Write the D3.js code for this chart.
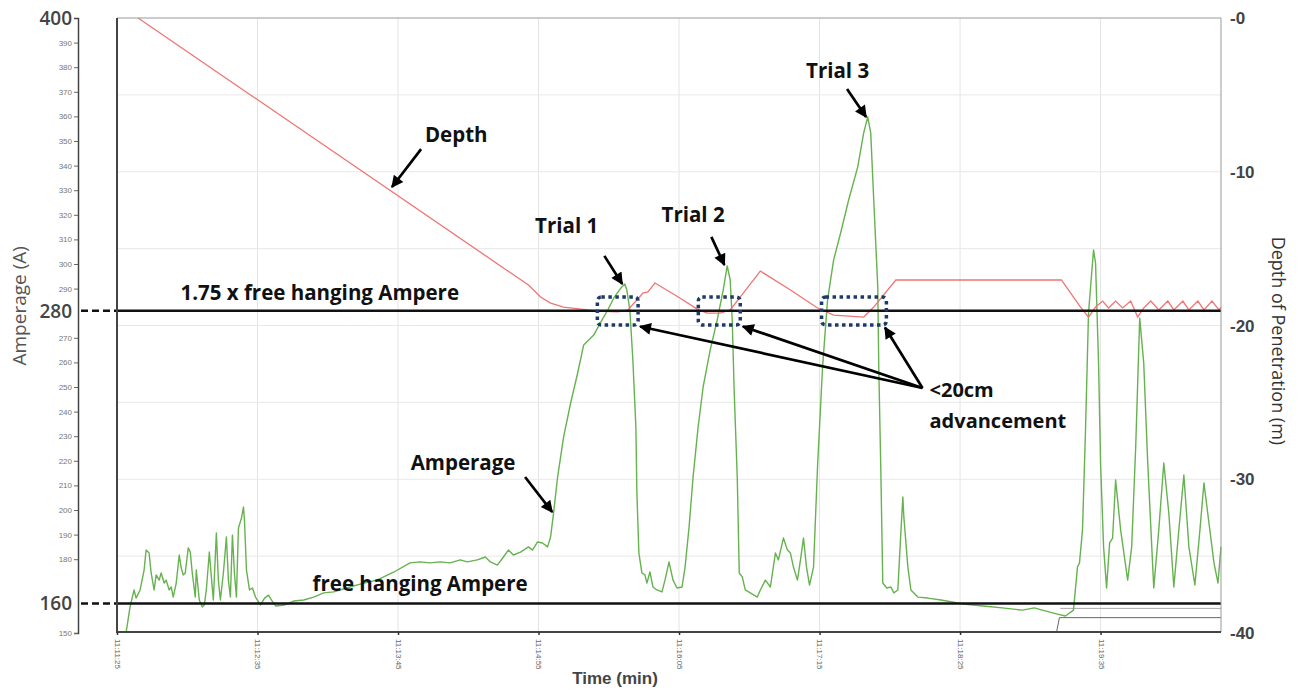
<!DOCTYPE html>
<html>
<head>
<meta charset="utf-8">
<script src="https://cdn.jsdelivr.net/npm/d3@7"></script>
<style>
  body { margin: 0; background: #fff; }
  svg { display: block; }
  .anno { font-family: "Open Sans", sans-serif; font-weight: 700; fill: #111; }
  .small-tick text { font-family: "Liberation Sans", Arial, sans-serif; font-size: 8px; fill: #777; }
</style>
</head>
<body>
<svg id="chart" width="1299" height="692"></svg>
<script>
// seconds after 11:11:25
const timeTicks = [0, 70, 140, 210, 280, 350, 420, 490];
const timeLabels = ["11:11:25", "11:12:35", "11:13:45", "11:14:55", "11:16:05", "11:17:15", "11:18:25", "11:19:35"];

const ampTicks = [150, 180, 190, 200, 210, 220, 230, 240, 250, 260, 270, 290, 300, 310, 320, 330, 340, 350, 360, 370, 380, 390];
const depthTicks = [0, -10, -20, -30, -40];
const depthGrid = [-5, -10, -15, -20, -25, -30, -35];

// [seconds, amperes]
const amperage = [
  [4.5,150],[6.5,160.6],[8.5,167.5],[9.5,164.2],[11.5,167.5],[13.5,175.6],[14.5,183.7],[16,182.5],[17,174.4],[18.5,167.5],
  [19.5,173.6],[21,171.5],[22,174.4],[23.5,170.3],[24.5,171.5],[26,167.5],[27,168.7],[28,164.6],[29.5,170.3],[31,181.7],
  [32,176.4],[33,173.6],[34,174.4],[35.5,184.6],[36.5,182.9],[37.5,174.4],[39,164.6],[39.5,175.6],[41,163.4],[42.5,160.6],
  [43.5,161.4],[44.5,167.5],[46,182.9],[47,172.8],[48,163.4],[49.5,190.7],[50.5,171.5],[51.5,163.4],[53,174.4],[54.5,189],
  [55.5,171.5],[56.5,164.6],[57.5,189.8],[58.5,174.4],[59.5,164.6],[60.5,192.7],[62,196.7],[63,201.2],[63.5,195.9],[64.5,175.6],
  [66,167.5],[67.5,168.3],[69,164.6],[71.5,161.4],[73.5,164.2],[75.5,165.4],[77,163.4],[79,161],[83.5,161.4],[88,163],
  [93,163.4],[98,164.6],[103,166.3],[108,166.7],[116,168.7],[123,170.3],[129.5,171.5],[138,174.8],[146,178.5],[151,178.9],
  [156,178.5],[161,178.9],[166,178.5],[171,179.7],[174.5,178.9],[179.5,179.7],[183.5,180.9],[186,178.9],[189.5,177.6],[192.5,180.9],
  [195,183.7],[197.5,181.7],[201,182.9],[205,185],[207,183.7],[209.5,187],[212,186.6],[214.5,185],[216,189],[217.5,198.8],
  [219.5,213.4],[222.5,229.7],[226,243.5],[229.5,255.7],[232.5,267.1],[235,269.1],[237.5,271.1],[241,276.4],[244.5,281.3],[247.5,286.2],
  [251,290.2],[253,291.9],[254,289.4],[255.5,281.3],[257,261],[258.5,233.7],[259,206.9],[260,182.5],[261.5,174.4],[263,173.6],
  [264,170.3],[265.5,174.8],[267,168.7],[269,167.5],[271.5,166.7],[273,171.5],[275,178.9],[277,171.5],[279,168.3],[281.5,168.7],
  [283,176.8],[285,193.1],[287,213.4],[289.5,233.7],[292,250],[295.5,265],[299,277.2],[302,289.4],[304,299.2],[305.5,293.5],
  [306.5,277.2],[307.5,247.6],[309,213.4],[310,174.4],[311.5,172.8],[313,167.5],[315.5,166.3],[319,164.6],[320.5,167.5],[323,171.5],
  [325.5,168.7],[328,182.5],[329.5,179.7],[332,188.6],[334,183.7],[335.5,182.5],[337,176.8],[339,171.5],[340.5,179.7],[342,188.6],
  [343.5,176.8],[345,169.5],[347,176.8],[349,217.5],[351.5,258.1],[354,285.4],[357,301.6],[360.5,312.6],[364.5,326],[369,339.4],
  [372,353.3],[374,359.8],[375.5,353.3],[377,326],[379,290.7],[379.5,258.1],[380.5,217.5],[381.5,170.3],[383.5,168.3],[385.5,168.7],
  [387,166.3],[389,167.5],[390.5,190.7],[391.5,205.3],[392,197.2],[394,176.8],[395.5,167.5],[399,164.6],[404,164.2],[410.5,163.4],
  [421.5,161.8],[431.5,161],[441,160.2],[451,159.3],[457,160.2],[461,159.3],[468.5,157.7],[472.5,156.9],[476.5,159.3],[478.5,176.8],
  [479.5,178.5],[481,191.9],[482.5,232.5],[484,280.1],[486.5,305.7],[487.5,300.4],[489,259.8],[490,219.1],[491.5,185],[493,168.3],
  [494.5,186.6],[496,188.6],[497.5,212.2],[500,191.9],[503.5,171.5],[505.5,185],[507.5,225.6],[509.5,278],[511.5,259.8],[513.5,219.1],
  [516.5,168.3],[519,191.9],[521.5,219.1],[524,198.8],[526.5,168.7],[529,191.9],[531.5,214.2],[534,185],[537,169.5],[539.5,191.9],
  [541.5,211],[544,194.7],[546.5,178.5],[548.5,170.3],[550,185]
];

// [seconds, metres]
const depth = [
  [10.5,0],[205,-17.37],[211,-18.15],[216,-18.54],[222.5,-18.8],[231,-18.93],[239.5,-19.06],[249.5,-19.12],[254.5,-18.99],[259,-18.34],
  [262,-17.89],[264.5,-17.82],[268,-17.24],[275.5,-17.82],[282,-18.34],[289,-18.93],[294,-19.19],[300.5,-19.19],[305.5,-18.99],[312,-17.89],
  [320.5,-16.46],[335.5,-17.69],[349,-18.86],[357,-19.32],[372,-19.45],[377,-18.8],[388,-17.04],[470.5,-17.04],[480,-18.8],[484,-19.45],
  [487.5,-18.8],[491,-18.41],[494,-18.86],[497.5,-18.41],[501,-18.86],[505,-18.41],[508.5,-19.45],[511.5,-18.86],[515,-18.41],[519,-18.99],
  [523.5,-18.41],[526.5,-18.99],[531,-18.41],[534,-18.99],[538.5,-18.41],[541.5,-18.99],[545.5,-18.41],[549,-18.99],[550,-18.8]
];

// bottom step trace, depth axis
const stepTrace = [[468,-40],[469.5,-39],[550,-39]];

const refLabels = ["280", "160"];
const refValues = [281, 162];

// annotations in [seconds, amperes]
const labels = [
  { text: "Depth", at: [169, 349.6] },
  { text: "Trial 1", at: [224, 312.6] },
  { text: "Trial 2", at: [287, 317.1] },
  { text: "Trial 3", at: [359, 375.6] },
  { text: "1.75 x free hanging Ampere", at: [101, 285.4] },
  { text: "free hanging Ampere", at: [151, 167.1] },
  { text: "Amperage", at: [172.4, 216.3] }
];
const arrows = [
  [[151.5, 346.7], [137, 331.3]],
  [[242.8, 303.3], [251.7, 291.9]],
  [[296.1, 311], [302.6, 299.6]],
  [[363.7, 371.1], [373.2, 359.8]],
  [[203.3, 213.4], [216.8, 199.2]],
  [[401.3, 249.6], [260.6, 274.6]],
  [[401.3, 249.6], [311.8, 274.6]],
  [[401.3, 249.6], [382.6, 274.2]]
];
const boxes = [[239.3, 259.6], [289.6, 310.5], [351, 383.3]];
const boxAmps = [275.2, 286.6];

const svg = d3.select("#chart");
const plotL = 117, plotR = 1221, plotT = 18, plotB = 632;

const x = d3.scaleLinear().domain([0, 550]).range([plotL, plotR]);
const yAmp = d3.scaleLinear().domain([150, 400]).range([633, plotT]);
const yDepth = d3.scaleLinear().domain([-40, 0]).range([633, plotT]);

// grid
svg.append("g").selectAll("line").data(timeTicks).join("line")
  .attr("x1", d => x(d)).attr("x2", d => x(d)).attr("y1", plotT).attr("y2", plotB)
  .attr("stroke", "#e4e4e4");
svg.append("g").selectAll("line").data(depthGrid).join("line")
  .attr("x1", plotL).attr("x2", plotR).attr("y1", d => yDepth(d)).attr("y2", d => yDepth(d))
  .attr("stroke", "#e8e8e8");

// faint baseline on right part
svg.append("line").attr("x1", x(470)).attr("x2", plotR)
  .attr("y1", yAmp(160)).attr("y2", yAmp(160)).attr("stroke", "#aaa").attr("stroke-width", 1);

const line = d3.line().x(d => x(d[0]));

svg.append("path").datum(stepTrace)
  .attr("d", line.y(d => yDepth(d[1])))
  .attr("fill", "none").attr("stroke", "#666").attr("stroke-width", 1);

svg.append("path").datum(amperage)
  .attr("d", line.y(d => yAmp(d[1])))
  .attr("fill", "none").attr("stroke", "#66b24f").attr("stroke-width", 1.4)
  .attr("stroke-linejoin", "round");

svg.append("path").datum(depth)
  .attr("d", line.y(d => yDepth(d[1])))
  .attr("fill", "none").attr("stroke", "#f07474").attr("stroke-width", 1.3);

// reference lines
refValues.forEach((v, i) => {
  svg.append("line").attr("x1", plotL).attr("x2", plotR)
    .attr("y1", yAmp(v)).attr("y2", yAmp(v))
    .attr("stroke", "#111").attr("stroke-width", 2.5);
  svg.append("line").attr("x1", 81).attr("x2", plotL)
    .attr("y1", yAmp(v)).attr("y2", yAmp(v))
    .attr("stroke", "#111").attr("stroke-width", 2.5).attr("stroke-dasharray", "7,4");
  svg.append("text").attr("x", 72).attr("y", yAmp(v) + 7)
    .attr("text-anchor", "end").attr("font-family", "Open Sans").attr("font-weight", 600)
    .attr("font-size", 19).attr("fill", "#444").text(refLabels[i]);
});

// frame
svg.append("line").attr("x1", plotL).attr("x2", plotR).attr("y1", plotT).attr("y2", plotT).attr("stroke", "#999");
svg.append("line").attr("x1", plotR).attr("x2", plotR).attr("y1", plotT).attr("y2", plotB).attr("stroke", "#999");
svg.append("line").attr("x1", plotL).attr("x2", plotL).attr("y1", plotT).attr("y2", plotB + 1).attr("stroke", "#444").attr("stroke-width", 2);
svg.append("line").attr("x1", plotL).attr("x2", plotR).attr("y1", plotB).attr("y2", plotB).attr("stroke", "#444").attr("stroke-width", 2);

// left amperage axis
const ampAxis = svg.append("g").attr("class", "small-tick").attr("transform", "translate(78,0)")
  .call(d3.axisLeft(yAmp).tickValues(ampTicks).tickSize(4).tickPadding(2));
ampAxis.select(".domain").attr("stroke", "#444").attr("stroke-width", 1.5);
ampAxis.selectAll(".tick line").attr("stroke", "#666");
svg.append("text").attr("x", 72).attr("y", yAmp(400) + 7)
  .attr("text-anchor", "end").attr("font-family", "Open Sans").attr("font-weight", 600)
  .attr("font-size", 19).attr("fill", "#444").text("400");

// time axis
const tAxis = svg.append("g").attr("transform", `translate(0,${plotB})`)
  .call(d3.axisBottom(x).tickValues(timeTicks).tickSize(3).tickFormat((d, i) => timeLabels[i]));
tAxis.select(".domain").remove();
tAxis.selectAll(".tick line").attr("stroke", "#333").attr("stroke-width", 1.5);
tAxis.selectAll(".tick text")
  .attr("transform", "rotate(90)").attr("x", 7).attr("y", 0).attr("dy", "0.32em")
  .attr("text-anchor", "start")
  .attr("font-family", "Liberation Sans").attr("font-size", 8).attr("fill", "#666");

// depth axis labels
svg.append("g").selectAll("text").data(depthTicks).join("text")
  .attr("x", 1230).attr("y", d => yDepth(d) + 6)
  .attr("font-family", "Liberation Sans").attr("font-weight", 700).attr("font-size", 17)
  .attr("fill", "#444").text(d => "-" + Math.abs(d));

// axis titles
svg.append("text").attr("transform", `translate(26,${yAmp(283)}) rotate(-90)`)
  .attr("text-anchor", "middle").attr("font-family", "Open Sans").attr("font-size", 19)
  .attr("fill", "#555").text("Amperage (A)");
svg.append("text").attr("transform", `translate(1272,${yDepth(-21)}) rotate(90)`)
  .attr("text-anchor", "middle").attr("font-family", "Open Sans").attr("font-size", 18)
  .attr("fill", "#333").text("Depth of Penetration (m)");
svg.append("text").attr("x", 615).attr("y", 684)
  .attr("text-anchor", "middle").attr("font-family", "Liberation Sans").attr("font-weight", 700)
  .attr("font-size", 17).attr("fill", "#444").text("Time (min)");

// dotted boxes
svg.append("g").selectAll("rect").data(boxes).join("rect")
  .attr("x", d => x(d[0])).attr("width", d => x(d[1]) - x(d[0]))
  .attr("y", yAmp(boxAmps[1])).attr("height", yAmp(boxAmps[0]) - yAmp(boxAmps[1]))
  .attr("rx", 4).attr("fill", "none").attr("stroke", "#1f3a68")
  .attr("stroke-width", 3.5).attr("stroke-dasharray", "3.5,3.5");

// arrows
svg.append("defs").append("marker").attr("id", "head")
  .attr("viewBox", "0 0 10 10").attr("refX", 9).attr("refY", 5)
  .attr("markerWidth", 14).attr("markerHeight", 12).attr("markerUnits", "userSpaceOnUse")
  .attr("orient", "auto")
  .append("path").attr("d", "M0,0L10,5L0,10z").attr("fill", "#000");
svg.append("g").selectAll("line").data(arrows).join("line")
  .attr("x1", d => x(d[0][0])).attr("y1", d => yAmp(d[0][1]))
  .attr("x2", d => x(d[1][0])).attr("y2", d => yAmp(d[1][1]))
  .attr("stroke", "#000").attr("stroke-width", 2.7).attr("marker-end", "url(#head)");

// labels
svg.append("g").selectAll("text").data(labels).join("text")
  .attr("class", "anno").attr("font-size", 20.5)
  .attr("x", d => x(d.at[0])).attr("y", d => yAmp(d.at[1]))
  .attr("text-anchor", "middle").text(d => d.text);
svg.append("text").attr("class", "anno").attr("font-size", 20)
  .attr("x", x(404.8)).attr("y", yAmp(245.9)).text("<20cm");
svg.append("text").attr("class", "anno").attr("font-size", 20)
  .attr("x", x(404.8)).attr("y", yAmp(233.3)).text("advancement");
</script>
</body>
</html>
